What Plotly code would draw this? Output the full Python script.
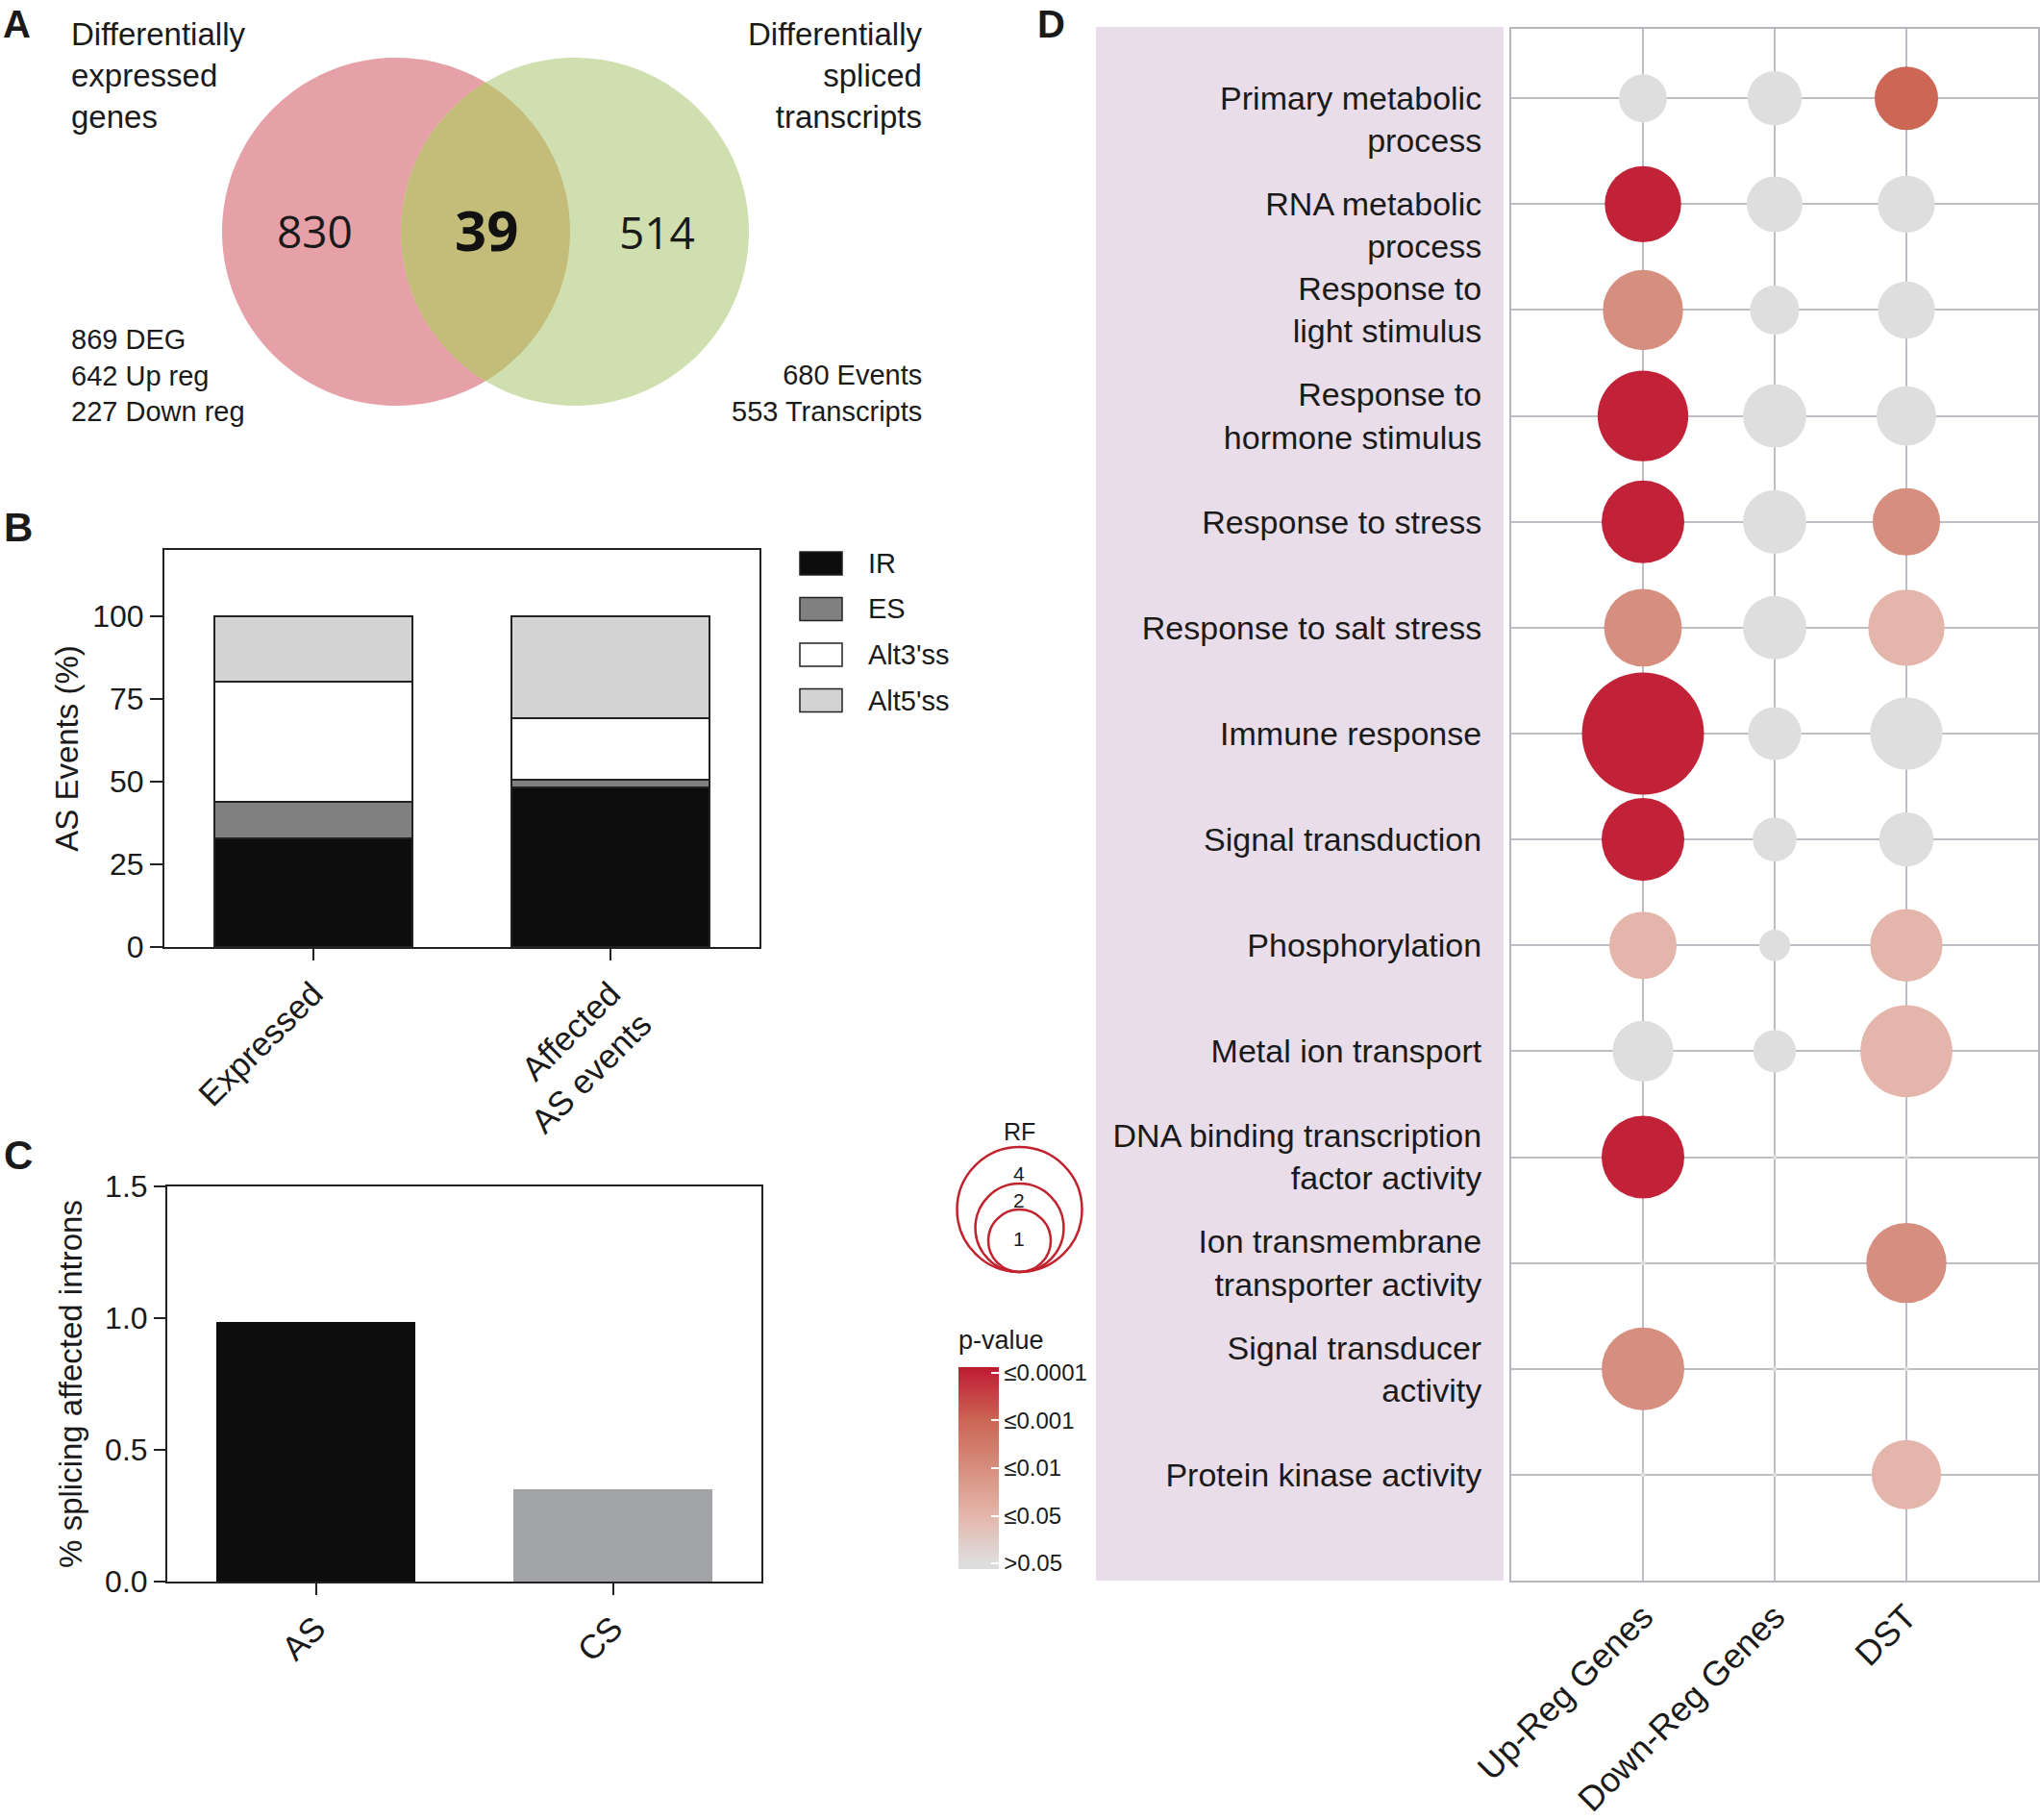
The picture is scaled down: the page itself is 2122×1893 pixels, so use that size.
import numpy as np
import plotly.graph_objects as go

W, H = 2122, 1893
FONT = "Liberation Sans, Arial, Helvetica, sans-serif"
TXT = "#1a1a1a"

# ---------------- Panel A : Venn ----------------
venn_only_deg = 830
venn_shared = 39
venn_only_ds = 514
deg_title = ["Differentially", "expressed", "genes"]
ds_title = ["Differentially", "spliced", "transcripts"]
deg_stats = ["869 DEG", "642 Up reg", "227 Down reg"]
ds_stats = ["680 Events", "553 Transcripts"]

# ---------------- Panel B : stacked bars ----------------
b_categories = ["Expressed", "Affected<br>AS events"]
b_IR = [32.7, 48.1]
b_ES = [11.1, 2.6]
b_ALT3 = [36.3, 18.4]
b_ALT5 = [19.9, 30.9]
b_series = ["IR", "ES", "Alt3'ss", "Alt5'ss"]
b_colors = ["#0d0d0d", "#808080", "#ffffff", "#d3d3d3"]
b_yticks = [0, 25, 50, 75, 100]

# ---------------- Panel C : bars ----------------
c_categories = ["AS", "CS"]
c_values = [0.986, 0.352]
c_colors = ["#0d0d0d", "#a3a4a8"]
c_yticks = [0.0, 0.5, 1.0, 1.5]

# ---------------- Panel D : bubble chart ----------------
go_terms = [
    "\u00a0<br>Primary metabolic<br>process",
    "\u00a0<br>RNA metabolic<br>process",
    "Response to<br>light stimulus",
    "Response to<br>hormone stimulus",
    "Response to stress",
    "Response to salt stress",
    "Immune response",
    "Signal transduction",
    "Phosphorylation",
    "Metal ion transport",
    "DNA binding transcription<br>factor activity",
    "Ion transmembrane<br>transporter activity",
    "Signal transducer<br>activity",
    "Protein kinase activity",
]
d_groups = ["Up-Reg Genes", "Down-Reg Genes", "DST"]
rf_up = [0.57, 1.45, 1.6, 2.04, 1.7, 1.5, 3.7, 1.7, 1.13, 0.92, 1.7, 0, 1.7, 0]
rf_down = [0.73, 0.77, 0.6, 1.0, 1.0, 1.0, 0.7, 0.48, 0.24, 0.45, 0, 0, 0, 0]
rf_dst = [1.0, 0.81, 0.81, 0.88, 1.13, 1.45, 1.3, 0.73, 1.3, 2.1, 0, 1.6, 0, 1.2]
# p-value class: 0 ">0.05", 1 "<=0.05", 2 "<=0.01", 3 "<=0.001", 4 "<=0.0001"
p_up = [0, 4, 2, 4, 4, 2, 4, 4, 1, 0, 4, 0, 2, 0]
p_down = [0, 0, 0, 0, 0, 0, 0, 0, 0, 0, 0, 0, 0, 0]
p_dst = [3, 0, 0, 0, 2, 1, 0, 0, 1, 1, 0, 2, 0, 1]
p_labels = [">0.05", "≤0.05", "≤0.01", "≤0.001", "≤0.0001"]
rf_legend = [1, 2, 4]


def px(x):
    return x / W


def py(y):
    return 1 - y / H


fig = go.Figure()

# ---- B traces
for name, vals, col in zip(b_series, [b_IR, b_ES, b_ALT3, b_ALT5], b_colors):
    fig.add_trace(go.Bar(
        x=b_categories, y=vals, name=name, width=0.665,
        marker=dict(color=col, line=dict(color="#222222", width=2)),
        xaxis="x", yaxis="y", showlegend=False))

# ---- C traces
fig.add_trace(go.Bar(
    x=c_categories, y=c_values, width=0.667,
    marker=dict(color=c_colors, line=dict(width=0)),
    xaxis="x2", yaxis="y2", showlegend=False))

# ---- D bubbles
RF_PX = 66.0
xs, ys, sizes, cols = [], [], [], []
for gi, (rfs, ps) in enumerate(zip([rf_up, rf_down, rf_dst], [p_up, p_down, p_dst])):
    for ti, (rf, p) in enumerate(zip(rfs, ps)):
        xs.append(gi + 1)
        ys.append(ti + 1)
        sizes.append(max(RF_PX * np.sqrt(rf), 5))
        cols.append(p)

cmin, cmax = -0.12, 4.12
def f(v):
    return (v - cmin) / (cmax - cmin)

colorscale = [
    [0.0, "#dcdcdc"], [f(0), "#dedede"], [f(1), "#e4b6ab"], [f(2), "#d68e7e"],
    [f(3), "#cc6655"], [f(4), "#c12237"], [1.0, "#b91b29"],
]
fig.add_trace(go.Scatter(
    x=xs, y=ys, mode="markers", xaxis="x3", yaxis="y3", showlegend=False,
    marker=dict(size=sizes, color=cols, colorscale=colorscale, cmin=cmin, cmax=cmax,
                line=dict(width=0), opacity=1,
                showscale=True,
                colorbar=dict(
                    x=px(997), xanchor="left", y=py(1527), yanchor="middle",
                    len=210, lenmode="pixels", thickness=42, thicknessmode="pixels",
                    tickvals=list(range(len(p_labels))), ticktext=p_labels,
                    ticks="inside", ticklen=8, tickwidth=2, tickcolor="white",
                    outlinewidth=0, xpad=0, ypad=0,
                    tickfont=dict(size=24, color=TXT, family=FONT)))))

shapes = []
annotations = []

# ---- Venn shapes
c1 = (412.0, 241.0)
c2 = (598.0, 241.0)
R = 181.0


def poly_path(pts):
    s = "M " + " L ".join(f"{px(x):.5f},{py(y):.5f}" for x, y in pts) + " Z"
    return s


def circle_pts(c, r, a0=0, a1=2 * np.pi, n=240):
    t = np.linspace(a0, a1, n)
    return list(zip(c[0] + r * np.cos(t), c[1] + r * np.sin(t)))


shapes.append(dict(type="path", xref="paper", yref="paper", path=poly_path(circle_pts(c1, R)),
                   fillcolor="#e5a1a7", line=dict(width=0), layer="below"))
shapes.append(dict(type="path", xref="paper", yref="paper", path=poly_path(circle_pts(c2, R)),
                   fillcolor="#cfdfb0", line=dict(width=0), layer="below"))
d = c2[0] - c1[0]
alpha = np.arccos((d / 2) / R)
lens = circle_pts(c1, R, -alpha, alpha, 120) + circle_pts(c2, R, np.pi - alpha, np.pi + alpha, 120)
shapes.append(dict(type="path", xref="paper", yref="paper", path=poly_path(lens),
                   fillcolor="#c4bd7a", line=dict(width=0), layer="below"))

annotations += [
    dict(x=px(327), y=py(240), text=str(venn_only_deg), font=dict(family="Open Sans", size=46, color=TXT)),
    dict(x=px(506), y=py(238), text=f"<b>{venn_shared}</b>", font=dict(family="Open Sans", size=58, color="#111")),
    dict(x=px(683), y=py(241), text=str(venn_only_ds), font=dict(family="Open Sans", size=46, color=TXT)),
    dict(x=px(72), y=py(78), text="<br>".join(deg_title), xanchor="left", align="left",
         font=dict(size=33, color=TXT)),
    dict(x=px(961), y=py(78), text="<br>".join(ds_title), xanchor="right", align="right",
         font=dict(size=33, color=TXT)),
    dict(x=px(72), y=py(391), text="<br>".join(deg_stats), xanchor="left", align="left",
         font=dict(size=29, color=TXT)),
    dict(x=px(961), y=py(409), text="<br>".join(ds_stats), xanchor="right", align="right",
         font=dict(size=29, color=TXT)),
]

# ---- Panel letters
annotations.append(dict(x=px(17), y=py(1), yanchor="top", text="<b>A</b>", font=dict(size=40, color=TXT)))
annotations.append(dict(x=px(1093), y=py(1), yanchor="top", text="<b>D</b>", font=dict(size=40, color=TXT)))
annotations.append(dict(x=px(19), y=py(548), text="<b>B</b>", font=dict(size=42, color=TXT)))
annotations.append(dict(x=px(19), y=py(1201), text="<b>C</b>", font=dict(size=42, color=TXT)))

# ---- B legend (manual)
for i, (name, col) in enumerate(zip(b_series, b_colors)):
    cy = 586 + i * 47.5
    shapes.append(dict(type="rect", xref="paper", yref="paper",
                       x0=px(832), x1=px(876), y0=py(cy + 12), y1=py(cy - 12),
                       fillcolor=col, line=dict(color="#222222", width=1.5)))
    annotations.append(dict(x=px(901), y=py(cy), text=name, xanchor="left",
                            font=dict(size=29, color=TXT)))

# ---- Panel D label background
shapes.append(dict(type="rect", xref="paper", yref="paper",
                   x0=px(1140), x1=px(1564), y0=py(1644), y1=py(28),
                   fillcolor="#e8dde9", line=dict(width=0), layer="below"))

# ---- RF legend
RED = "#c0222e"
rf_diam = [65 * np.sqrt(v) for v in rf_legend]
for v, dia in zip(rf_legend, rf_diam):
    cx, bottom = 1060.5, 1323
    shapes.append(dict(type="circle", xref="paper", yref="paper",
                       x0=px(cx - dia / 2), x1=px(cx + dia / 2),
                       y0=py(bottom), y1=py(bottom - dia),
                       line=dict(color=RED, width=2.5), fillcolor="rgba(0,0,0,0)"))
for v, yy in zip(rf_legend, [1288, 1248, 1220]):
    annotations.append(dict(x=px(1060), y=py(yy), text=str(v), font=dict(size=21, color=TXT)))
annotations.append(dict(x=px(1060), y=py(1177), text="RF", font=dict(size=25, color=TXT)))
annotations.append(dict(x=px(995), y=py(1394), text="p-value", xanchor="left",
                        font=dict(size=27, color=TXT)))

for a in annotations:
    a.setdefault("xref", "paper")
    a.setdefault("yref", "paper")
    a.setdefault("showarrow", False)
    a.setdefault("xanchor", "center")
    a.setdefault("yanchor", "middle")

axis_common = dict(showline=True, linewidth=2, linecolor="#222222", mirror=True,
                   showgrid=False, zeroline=False, ticks="outside", tickwidth=2,
                   tickcolor="#222222", automargin=False)

fig.update_layout(
    width=W, height=H, margin=dict(l=0, r=0, t=0, b=0, pad=0, autoexpand=False),
    paper_bgcolor="white", plot_bgcolor="white",
    font=dict(family=FONT, color=TXT, size=30),
    barmode="stack", bargap=0.33,
    shapes=shapes, annotations=annotations,
    xaxis=dict(domain=[px(171), px(790)], anchor="y", type="category", range=[-0.5, 1.5],
               ticklen=12, tickangle=-45, tickfont=dict(size=35), **axis_common),
    yaxis=dict(domain=[py(985), py(572)], anchor="x", range=[0, 120], tickvals=b_yticks,
               ticklen=13, tickfont=dict(size=32),
               title=dict(text="AS Events (%)", font=dict(size=33), standoff=5), **axis_common),
    xaxis2=dict(domain=[px(174), px(792)], anchor="y2", type="category", range=[-0.5, 1.5],
                ticklen=12, tickangle=-45, tickfont=dict(size=35), **axis_common),
    yaxis2=dict(domain=[py(1645), py(1234)], anchor="x2", range=[0, 1.5], tickvals=c_yticks,
                tickformat=".1f", ticklen=12, tickfont=dict(size=32),
                title=dict(text="% splicing affected introns", font=dict(size=33), standoff=14),
                **axis_common),
    xaxis3=dict(domain=[px(1572), px(2120)], anchor="y3", range=[0, 4],
                tickvals=[i + 1 for i in range(len(d_groups))], ticktext=d_groups,
                tickangle=-45, tickfont=dict(size=36), automargin=False,
                showgrid=True, gridcolor="#bdbdc3", gridwidth=2, zeroline=False,
                showline=True, linecolor="#b5b5bb", linewidth=2, mirror=True, ticks=""),
    yaxis3=dict(domain=[py(1644), py(30)], anchor="x3", range=[15, 0.344],
                tickvals=[i + 1 for i in range(len(go_terms))], ticktext=go_terms,
                tickfont=dict(size=34), ticklabelstandoff=22, automargin=False,
                showgrid=True, gridcolor="#bdbdc3", gridwidth=2, zeroline=False,
                showline=True, linecolor="#b5b5bb", linewidth=2, mirror=True, ticks=""),
)

fig.write_html("out.html", config={"displayModeBar": False},
               post_script="document.body.style.margin='0';document.body.style.overflow='hidden';")
